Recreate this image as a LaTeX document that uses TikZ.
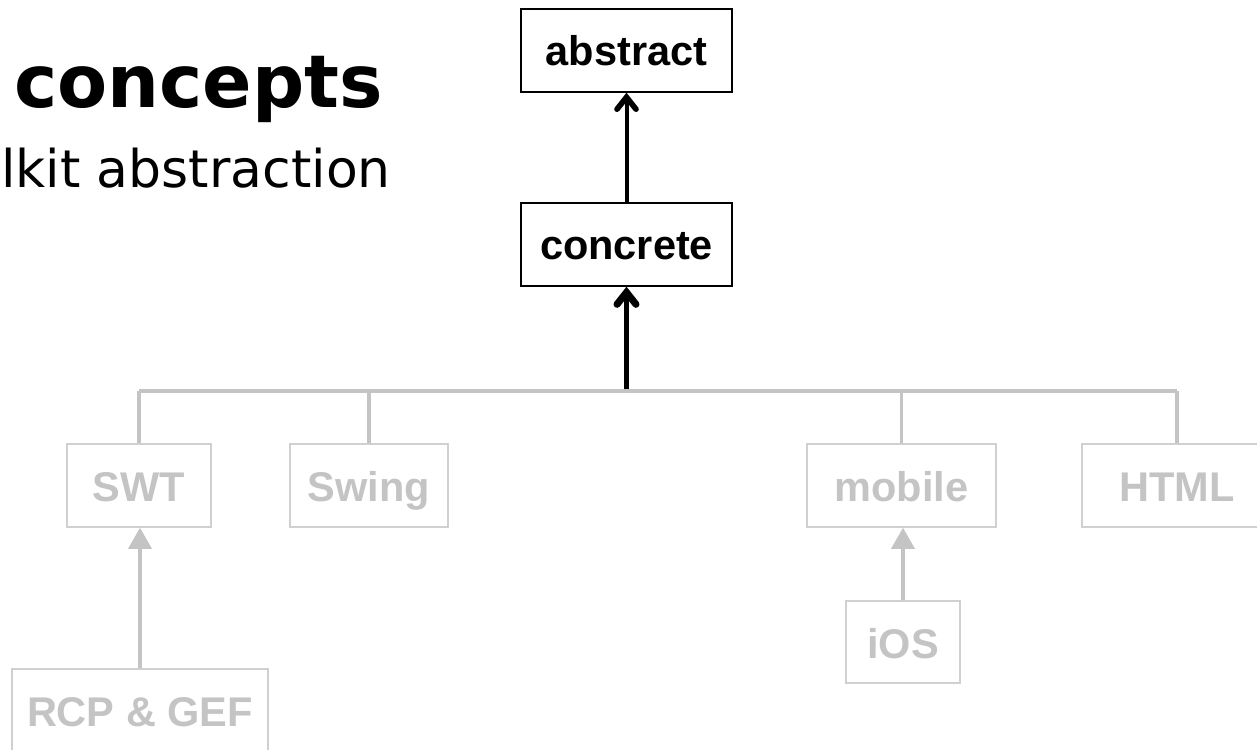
\documentclass[tikz,border=0pt]{standalone}
\usepackage{fontspec}
\setmainfont{Liberation Sans}
\newfontfamily\vfont{DejaVu Sans}
\usetikzlibrary{arrows.meta}
\definecolor{lg}{HTML}{C4C4C4}
\definecolor{lgb}{HTML}{D0D0D0}
\tikzset{
  bbox/.style={draw=black, line width=1.4pt, inner sep=0pt, minimum height=83pt,
    font=\fontsize{41.5}{41.5}\selectfont\bfseries, text height=30pt, text depth=0pt},
  gbox/.style={draw=lgb, line width=1.5pt, inner sep=0pt, minimum height=83pt, text=lg,
    font=\fontsize{41.5}{41.5}\selectfont\bfseries, text height=32pt, text depth=0pt},
  gline/.style={draw=lg, line width=3.2pt},
  gbar/.style={draw=lg, line width=4pt},
  barrow/.style={draw=black, line width=4pt, -{Straight Barb[length=12pt,width=19pt,line width=0pt 1.4, line cap=round, line join=miter]}},
  garrow/.style={draw=lg, line width=3.4pt, -{Triangle[length=21pt,width=23pt]}}
}
\begin{document}
\begin{tikzpicture}[x=1pt,y=-1pt]
\useasboundingbox (0,0) rectangle (1257,749);
\clip (0,0) rectangle (1257,749);
\fill[white] (0,0) rectangle (1257,749);
% title texts
\node[anchor=base east, inner sep=0pt, font=\vfont\fontsize{73}{73}\selectfont\bfseries] (title) at (383,108) {concepts};
\node[anchor=base east, inner sep=0pt, font=\vfont\fontsize{52}{52}\selectfont] (subtitle) at (391,187) {lkit abstraction};
% black boxes
\node[bbox, minimum width=211pt] (abstract) at (626.5,50.5) {abstract};
\node[bbox, minimum width=211pt] (concrete) at (626.5,244.5) {concrete};
% grey boxes
\node[gbox, minimum width=144pt] (swt) at (139,485.5) {SWT};
\node[gbox, minimum width=158pt] (swing) at (369,485.5) {Swing};
\node[gbox, minimum width=189pt] (mobile) at (901.5,485.5) {mobile};
\node[gbox, minimum width=190pt] (html) at (1177,485.5) {HTML};
\node[gbox, minimum width=114pt, minimum height=82pt] (ios) at (903,642) {iOS};
\node[gbox, minimum width=256pt] (rcp) at (140,710.5) {RCP \& GEF};
% bar
\coordinate (bar) at (626.5,391);
\draw[gbar] (swt.north |- bar) -- (html.north |- bar);
\draw[gline] (swt.north) -- (swt.north |- bar);
\draw[gline] (swing.north) -- (swing.north |- bar);
\draw[gline] (mobile.north) -- (mobile.north |- bar);
\draw[gline] (html.north) -- (html.north |- bar);
% arrows
\draw[barrow] (concrete.north) -- (abstract.south);
\draw[barrow, line width=5pt] ([yshift=2pt]bar) -- (concrete.south);
\draw[garrow] (rcp.north) -- (rcp.north |- swt.south);
\draw[garrow] (ios.north) -- (ios.north |- mobile.south);
\end{tikzpicture}
\end{document}
